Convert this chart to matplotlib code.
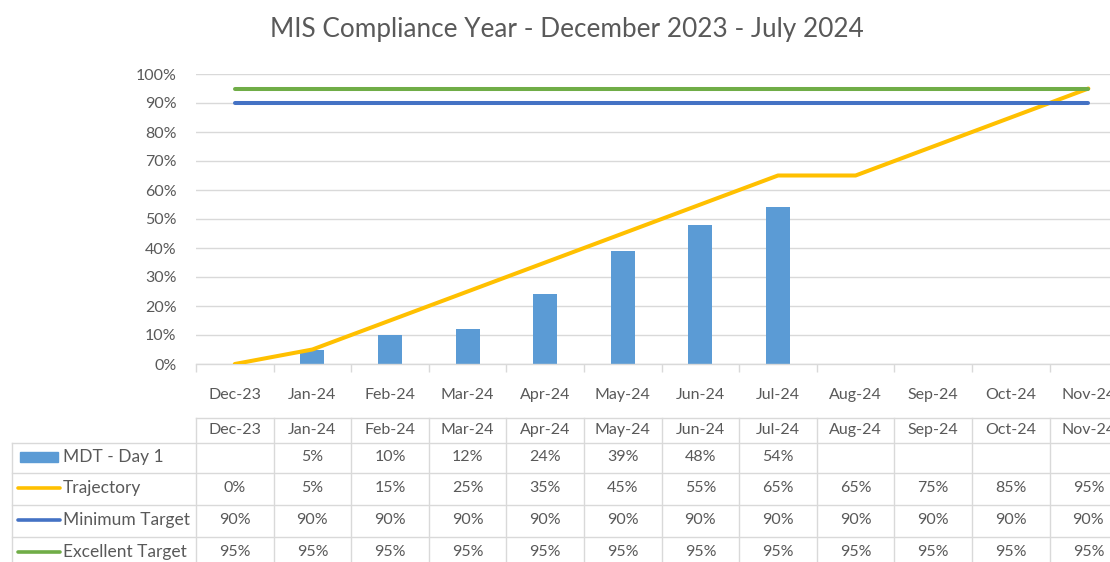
import numpy as np
import matplotlib.pyplot as plt
from matplotlib.lines import Line2D
from matplotlib.patches import Rectangle
from matplotlib.transforms import blended_transform_factory

months = ["Dec-23", "Jan-24", "Feb-24", "Mar-24", "Apr-24", "May-24",
          "Jun-24", "Jul-24", "Aug-24", "Sep-24", "Oct-24", "Nov-24"]
mdt_day1 = [None, 5, 10, 12, 24, 39, 48, 54, None, None, None, None]
trajectory = [0, 5, 15, 25, 35, 45, 55, 65, 65, 75, 85, 95]
minimum_target = [90] * 12
excellent_target = [95] * 12

TEXT = "#595959"
GRID = "#D9D9D9"
C_BAR = "#5B9BD5"
C_TRAJ = "#FFC000"
C_MIN = "#4472C4"
C_EXC = "#70AD47"

plt.rcParams["font.family"] = ["Lato", "DejaVu Sans"]

W, H = 1110, 562
fig = plt.figure(figsize=(W / 100, H / 100), dpi=100)

# plot area in pixels (chart is cropped on the right in the original)
left_px, top_px, base_px = 196, 74, 364
col_w = 77.6
ax = fig.add_axes([left_px / W, (H - base_px) / H,
                   12 * col_w / W, (base_px - top_px) / H])

x = np.arange(len(months))
bar_vals = np.array([np.nan if v is None else v for v in mdt_day1]) / 100
ax.bar(x, bar_vals, width=0.31, color=C_BAR, zorder=2)
ax.plot(x, np.array(trajectory) / 100, color=C_TRAJ, lw=2.9,
        solid_capstyle="round", solid_joinstyle="round", zorder=3)
ax.plot(x, np.array(minimum_target) / 100, color=C_MIN, lw=2.9,
        solid_capstyle="round", zorder=3)
ax.plot(x, np.array(excellent_target) / 100, color=C_EXC, lw=2.9,
        solid_capstyle="round", zorder=3)

ax.set_xlim(-0.5, len(months) - 0.5)
ax.set_ylim(0, 1.0)
ax.set_yticks(np.arange(0, 1.01, 0.1))
ax.set_yticklabels([f"{int(round(v * 100))}%" for v in np.arange(0, 1.01, 0.1)])
ax.yaxis.grid(True, color=GRID, lw=1)
ax.set_axisbelow(True)
for s in ["top", "right", "left"]:
    ax.spines[s].set_visible(False)
ax.spines["bottom"].set_color(GRID)
ax.spines["bottom"].set_linewidth(1)
ax.tick_params(axis="y", length=0, pad=14, labelsize=11.5, labelcolor=TEXT)
ax.set_xticks(x)
ax.set_xticklabels(months)
ax.tick_params(axis="x", length=0, pad=17, labelsize=11.5, labelcolor=TEXT)
ax.set_xticks(np.arange(-0.5, len(months), 1), minor=True)
ax.tick_params(axis="x", which="minor", length=6, color=GRID, width=1)

fig.text(567 / W, 1 - 30 / H, "MIS Compliance Year - December 2023 - July 2024",
         ha="center", va="center", fontsize=18.8, color=TEXT)

# data table beneath the chart
tr = blended_transform_factory(ax.transData, fig.transFigure)
def fy(py):
    return 1 - py / H

row_tops = [418, 443, 473, 505, 537]
row_mid = [430, 457, 488, 520, 552]
bottom_px = 575
table_left = 12 / W

# horizontal lines
for i, yt in enumerate(row_tops):
    if i == 0:
        fig.add_artist(Line2D([-0.5, len(months) - 0.5], [fy(yt), fy(yt)],
                              transform=tr, color=GRID, lw=1))
    else:
        fig.add_artist(Line2D([table_left, 1.02], [fy(yt), fy(yt)],
                              transform=fig.transFigure, color=GRID, lw=1))
# vertical lines
for b in np.arange(-0.5, len(months), 1):
    fig.add_artist(Line2D([b, b], [fy(row_tops[0]), fy(bottom_px)],
                          transform=tr, color=GRID, lw=1))
fig.add_artist(Line2D([table_left, table_left], [fy(row_tops[1]), fy(bottom_px)],
                      transform=fig.transFigure, color=GRID, lw=1))

for i, m in enumerate(months):
    fig.text(i, fy(row_mid[0]), m, transform=tr, ha="center", va="center",
             fontsize=11.5, color=TEXT)

series = [
    ("MDT - Day 1", mdt_day1, C_BAR, "bar"),
    ("Trajectory", trajectory, C_TRAJ, "line"),
    ("Minimum Target", minimum_target, C_MIN, "line"),
    ("Excellent Target", excellent_target, C_EXC, "line"),
]
for r, (name, vals, color, kind) in enumerate(series):
    yc = fy(row_mid[r + 1])
    if kind == "bar":
        fig.add_artist(Rectangle((20 / W, yc - 5 / H), 38 / W, 10 / H,
                                 transform=fig.transFigure, color=color))
    else:
        fig.add_artist(Line2D([18 / W, 60 / W], [yc, yc], transform=fig.transFigure,
                              color=color, lw=2.6, solid_capstyle="round"))
    fig.text(63 / W, yc, name, ha="left", va="center", fontsize=12.5, color=TEXT)
    for i, v in enumerate(vals):
        if v is None:
            continue
        fig.text(i, yc, f"{v}%", transform=tr, ha="center", va="center",
                 fontsize=11.5, color=TEXT)

fig.savefig("out.png", dpi=100)
